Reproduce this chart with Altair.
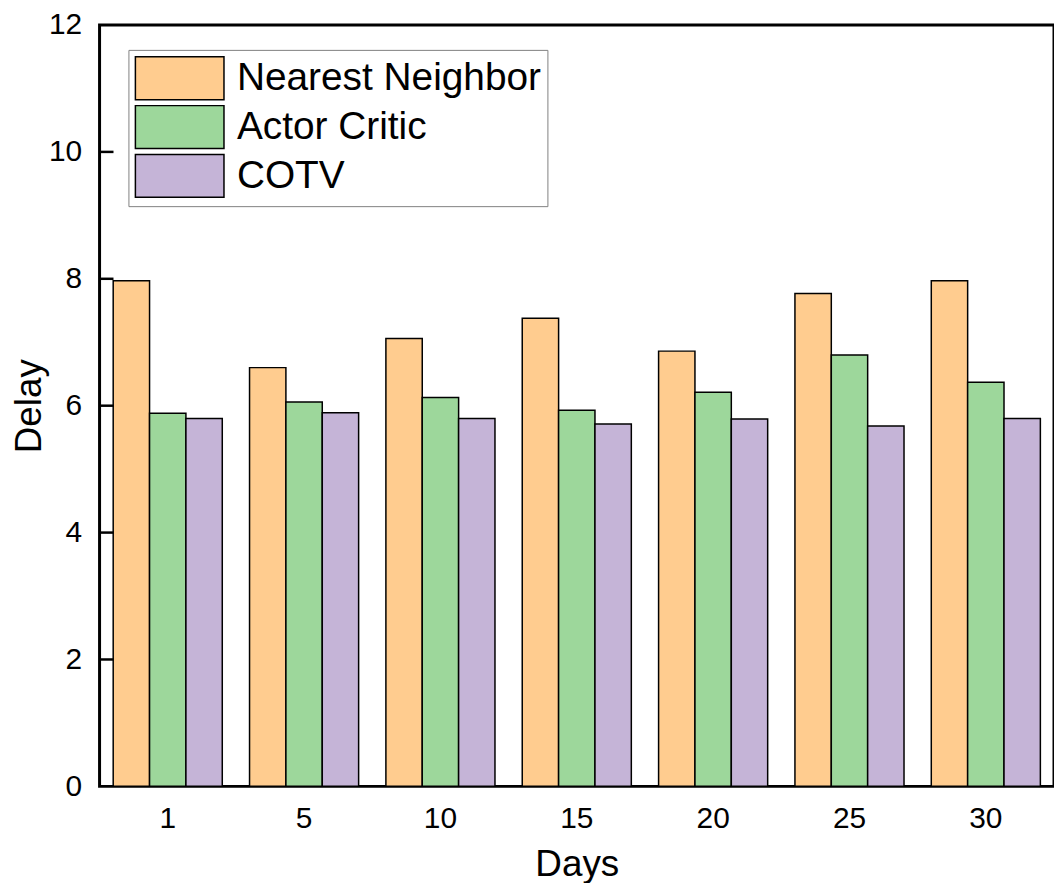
import altair as alt
import pandas as pd

days = ["1", "5", "10", "15", "20", "25", "30"]
series = ["Nearest Neighbor", "Actor Critic", "COTV"]
nearest_neighbor = [7.97, 6.60, 7.06, 7.38, 6.86, 7.77, 7.97]
actor_critic = [5.88, 6.06, 6.13, 5.93, 6.21, 6.80, 6.37]
cotv = [5.80, 5.89, 5.80, 5.71, 5.79, 5.68, 5.80]
colors = ["#FFCC8F", "#9DD79B", "#C5B4D7"]
y_ticks = [0, 2, 4, 6, 8, 10, 12]

rows = []
for name, vals in zip(series, [nearest_neighbor, actor_critic, cotv]):
    for d, v in zip(days, vals):
        rows.append({"Days": d, "Series": name, "Delay": v})
df = pd.DataFrame(rows)
tick_df = pd.DataFrame({"Delay": y_ticks[1:-1]})

FONT = "Liberation Sans"
H = 765

y_axis = alt.Axis(
    title="Delay",
    values=y_ticks,
    format="d",
    ticks=False,
    domain=False,
    grid=False,
    labelPadding=18,
    labelFontSize=30,
    titleFontSize=37,
    titleFontWeight="normal",
    titleAngle=270,
    titleBaseline="alphabetic",
    titleAlign="center",
    titleX=-59,
    titleY=H / 2,
)
y_scale = alt.Scale(domain=[0, 12], nice=False)

bars = alt.Chart(df).mark_bar(stroke="black", strokeWidth=1.5).encode(
    x=alt.X(
        "Days:N",
        sort=days,
        scale=alt.Scale(paddingInner=0.2, paddingOuter=0.1),
        axis=alt.Axis(
            title="Days",
            labelAngle=0,
            ticks=False,
            domain=False,
            labelPadding=17,
            labelFontSize=30,
            titleFontSize=37,
            titleFontWeight="normal",
            titleBaseline="alphabetic",
            titleY=90,
        ),
    ),
    xOffset=alt.XOffset("Series:N", sort=series, scale=alt.Scale(paddingInner=0, paddingOuter=0)),
    y=alt.Y("Delay:Q", scale=y_scale, axis=y_axis),
    color=alt.Color(
        "Series:N",
        sort=series,
        scale=alt.Scale(domain=series, range=colors),
        legend=alt.Legend(
            title=None,
            orient="none",
            legendX=29,
            legendY=25,
            symbolType="M-1,-1H3.14V1H-1Z",
            symbolSize=1849,
            symbolStrokeColor="black",
            symbolStrokeWidth=1.5,
            symbolOpacity=1,
            labelFontSize=39,
            labelOffset=58,
            labelLimit=600,
            labelFont=FONT,
            rowPadding=0,
            padding=6,
            strokeColor="#808080",
            fillColor="white",
        ),
    ),
)

ticks = alt.Chart(tick_df).mark_rule(color="black", strokeWidth=2.5).encode(
    y=alt.Y("Delay:Q", scale=y_scale, axis=y_axis),
    x=alt.value(0),
    x2=alt.value(14),
)

chart = (
    alt.layer(bars, ticks)
    .properties(
        width=959,
        height=H,
        autosize=alt.AutoSizeParams(type="none"),
        padding={"left": 92, "top": 15, "right": 0, "bottom": 95},
    )
    .configure(font=FONT)
    .configure_view(stroke="black", strokeWidth=3)
    .configure_axis(labelColor="black", titleColor="black", labelFont=FONT, titleFont=FONT)
    .configure_legend(labelColor="black")
)

chart.save("out.html", embed_options={"renderer": "svg", "actions": False})
